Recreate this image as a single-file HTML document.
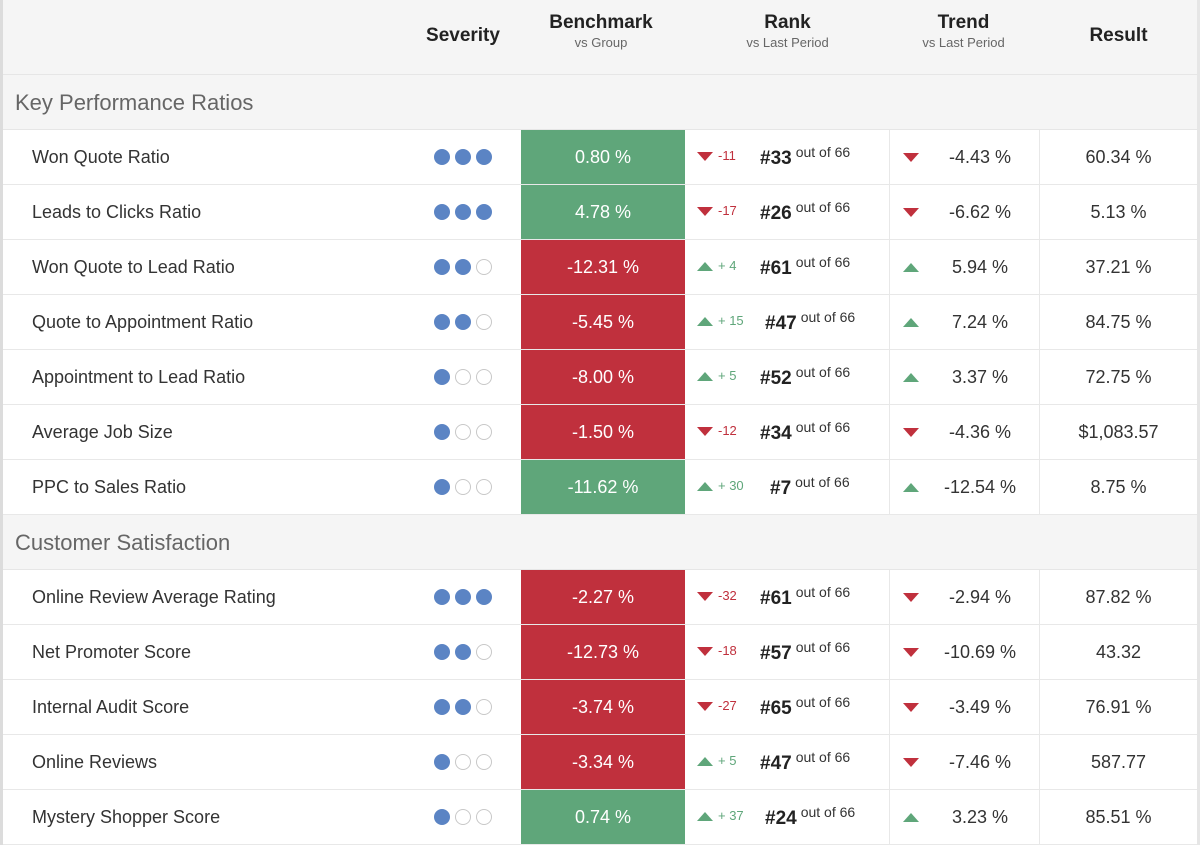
<!DOCTYPE html>
<html><head><meta charset="utf-8"><style>
*{margin:0;padding:0;box-sizing:border-box}
body{width:1200px;height:845px;overflow:hidden;background:#fff;font-family:"Liberation Sans",sans-serif;color:#333;position:relative}
.bl{position:absolute;left:0;top:0;width:3px;height:845px;background:#dcdcdc}
.br{position:absolute;right:0;top:0;width:3px;height:845px;background:#e6e6e6}
.hdr{position:absolute;left:3px;top:0;width:1194px;height:75px;background:#f5f5f5;border-bottom:1px solid #e6e6e6}
.h{position:absolute;text-align:center;font-weight:bold;font-size:19px;color:#222}
.h small{display:block;font-weight:normal;font-size:13px;color:#666;margin-top:1px}
.sec{position:absolute;left:3px;width:1194px;height:55px;background:#f5f5f5;font-size:22px;color:#666;padding:15px 0 0 12px;border-bottom:1px solid #e6e6e6}
.row{position:absolute;left:3px;width:1194px;height:55px;border-bottom:1px solid #e8e8e8;font-size:18px}
.row>div{position:absolute;top:0;height:54px;line-height:54px}
.nm{left:29px}
.dots{left:431px;top:19px!important;height:16px!important;line-height:0!important}
.d{display:inline-block;width:16px;height:16px;border-radius:50%;margin-right:5px;background:#5b84c4}
.d.e{background:#fff;border:1px solid #c8c8c8}
.bm{left:518px;width:164px;text-align:center;color:#fff}
.g{background:#5fa67a}.r{background:#c0303d}
.rk{left:682px;width:205px;border-right:1px solid #e8e8e8}
.rk>span{position:absolute;line-height:1;white-space:nowrap}
.tu,.td{display:inline-block;width:0;height:0;border-left:8px solid transparent;border-right:8px solid transparent}
.td{border-top:9px solid #c0303d}
.tu{border-bottom:9px solid #5fa67a}
.rk .tu,.rk .td{left:12px;top:22px}
.rk .dl{font-size:13px;left:33px;top:19px}
.dn{color:#c0303d}.up{color:#5fa67a}
.rk .rn{top:19px;left:75px}
.num{font-weight:bold;font-size:19px;color:#222}
.of{font-size:14px;color:#333;margin-left:4px;position:relative;top:-7px}
.tr{left:887px;width:150px;border-right:1px solid #e8e8e8}
.tr .tu,.tr .td{position:absolute;left:13px;top:23px}
.tr .v{position:absolute;left:0;width:180px;text-align:center;top:0}
.rs{left:1037px;width:157px;text-align:center}
</style></head><body>
<div class="hdr"></div>
<div class="h" style="left:413px;width:100px;top:25px">Severity</div>
<div class="h" style="left:520px;width:162px;top:12px">Benchmark<small>vs Group</small></div>
<div class="h" style="left:700px;width:175px;top:12px">Rank<small>vs Last Period</small></div>
<div class="h" style="left:890px;width:147px;top:12px">Trend<small>vs Last Period</small></div>
<div class="h" style="left:1040px;width:157px;top:25px">Result</div>

<div class="sec" style="top:75px">Key Performance Ratios</div>

<div class="row" style="top:130px"><div class="nm">Won Quote Ratio</div><div class="dots"><span class="d"></span><span class="d"></span><span class="d"></span></div><div class="bm g">0.80 %</div><div class="rk"><span class="td"></span><span class="dl dn">-11</span><span class="rn"><span class="num">#33</span><span class="of">out of 66</span></span></div><div class="tr"><span class="td"></span><div class="v">-4.43 %</div></div><div class="rs">60.34 %</div></div>

<div class="row" style="top:185px"><div class="nm">Leads to Clicks Ratio</div><div class="dots"><span class="d"></span><span class="d"></span><span class="d"></span></div><div class="bm g">4.78 %</div><div class="rk"><span class="td"></span><span class="dl dn">-17</span><span class="rn"><span class="num">#26</span><span class="of">out of 66</span></span></div><div class="tr"><span class="td"></span><div class="v">-6.62 %</div></div><div class="rs">5.13 %</div></div>

<div class="row" style="top:240px"><div class="nm">Won Quote to Lead Ratio</div><div class="dots"><span class="d"></span><span class="d"></span><span class="d e"></span></div><div class="bm r">-12.31 %</div><div class="rk"><span class="tu"></span><span class="dl up">+ 4</span><span class="rn"><span class="num">#61</span><span class="of">out of 66</span></span></div><div class="tr"><span class="tu"></span><div class="v">5.94 %</div></div><div class="rs">37.21 %</div></div>

<div class="row" style="top:295px"><div class="nm">Quote to Appointment Ratio</div><div class="dots"><span class="d"></span><span class="d"></span><span class="d e"></span></div><div class="bm r">-5.45 %</div><div class="rk"><span class="tu"></span><span class="dl up">+ 15</span><span class="rn" style="left:80px"><span class="num">#47</span><span class="of">out of 66</span></span></div><div class="tr"><span class="tu"></span><div class="v">7.24 %</div></div><div class="rs">84.75 %</div></div>

<div class="row" style="top:350px"><div class="nm">Appointment to Lead Ratio</div><div class="dots"><span class="d"></span><span class="d e"></span><span class="d e"></span></div><div class="bm r">-8.00 %</div><div class="rk"><span class="tu"></span><span class="dl up">+ 5</span><span class="rn"><span class="num">#52</span><span class="of">out of 66</span></span></div><div class="tr"><span class="tu"></span><div class="v">3.37 %</div></div><div class="rs">72.75 %</div></div>

<div class="row" style="top:405px"><div class="nm">Average Job Size</div><div class="dots"><span class="d"></span><span class="d e"></span><span class="d e"></span></div><div class="bm r">-1.50 %</div><div class="rk"><span class="td"></span><span class="dl dn">-12</span><span class="rn"><span class="num">#34</span><span class="of">out of 66</span></span></div><div class="tr"><span class="td"></span><div class="v">-4.36 %</div></div><div class="rs">$1,083.57</div></div>

<div class="row" style="top:460px"><div class="nm">PPC to Sales Ratio</div><div class="dots"><span class="d"></span><span class="d e"></span><span class="d e"></span></div><div class="bm g">-11.62 %</div><div class="rk"><span class="tu"></span><span class="dl up">+ 30</span><span class="rn" style="left:85px"><span class="num">#7</span><span class="of">out of 66</span></span></div><div class="tr"><span class="tu"></span><div class="v">-12.54 %</div></div><div class="rs">8.75 %</div></div>

<div class="sec" style="top:515px">Customer Satisfaction</div>

<div class="row" style="top:570px"><div class="nm">Online Review Average Rating</div><div class="dots"><span class="d"></span><span class="d"></span><span class="d"></span></div><div class="bm r">-2.27 %</div><div class="rk"><span class="td"></span><span class="dl dn">-32</span><span class="rn"><span class="num">#61</span><span class="of">out of 66</span></span></div><div class="tr"><span class="td"></span><div class="v">-2.94 %</div></div><div class="rs">87.82 %</div></div>

<div class="row" style="top:625px"><div class="nm">Net Promoter Score</div><div class="dots"><span class="d"></span><span class="d"></span><span class="d e"></span></div><div class="bm r">-12.73 %</div><div class="rk"><span class="td"></span><span class="dl dn">-18</span><span class="rn"><span class="num">#57</span><span class="of">out of 66</span></span></div><div class="tr"><span class="td"></span><div class="v">-10.69 %</div></div><div class="rs">43.32</div></div>

<div class="row" style="top:680px"><div class="nm">Internal Audit Score</div><div class="dots"><span class="d"></span><span class="d"></span><span class="d e"></span></div><div class="bm r">-3.74 %</div><div class="rk"><span class="td"></span><span class="dl dn">-27</span><span class="rn"><span class="num">#65</span><span class="of">out of 66</span></span></div><div class="tr"><span class="td"></span><div class="v">-3.49 %</div></div><div class="rs">76.91 %</div></div>

<div class="row" style="top:735px"><div class="nm">Online Reviews</div><div class="dots"><span class="d"></span><span class="d e"></span><span class="d e"></span></div><div class="bm r">-3.34 %</div><div class="rk"><span class="tu"></span><span class="dl up">+ 5</span><span class="rn"><span class="num">#47</span><span class="of">out of 66</span></span></div><div class="tr"><span class="td"></span><div class="v">-7.46 %</div></div><div class="rs">587.77</div></div>

<div class="row" style="top:790px"><div class="nm">Mystery Shopper Score</div><div class="dots"><span class="d"></span><span class="d e"></span><span class="d e"></span></div><div class="bm g">0.74 %</div><div class="rk"><span class="tu"></span><span class="dl up">+ 37</span><span class="rn" style="left:80px"><span class="num">#24</span><span class="of">out of 66</span></span></div><div class="tr"><span class="tu"></span><div class="v">3.23 %</div></div><div class="rs">85.51 %</div></div>

<div class="bl"></div><div class="br"></div>
</body></html>
